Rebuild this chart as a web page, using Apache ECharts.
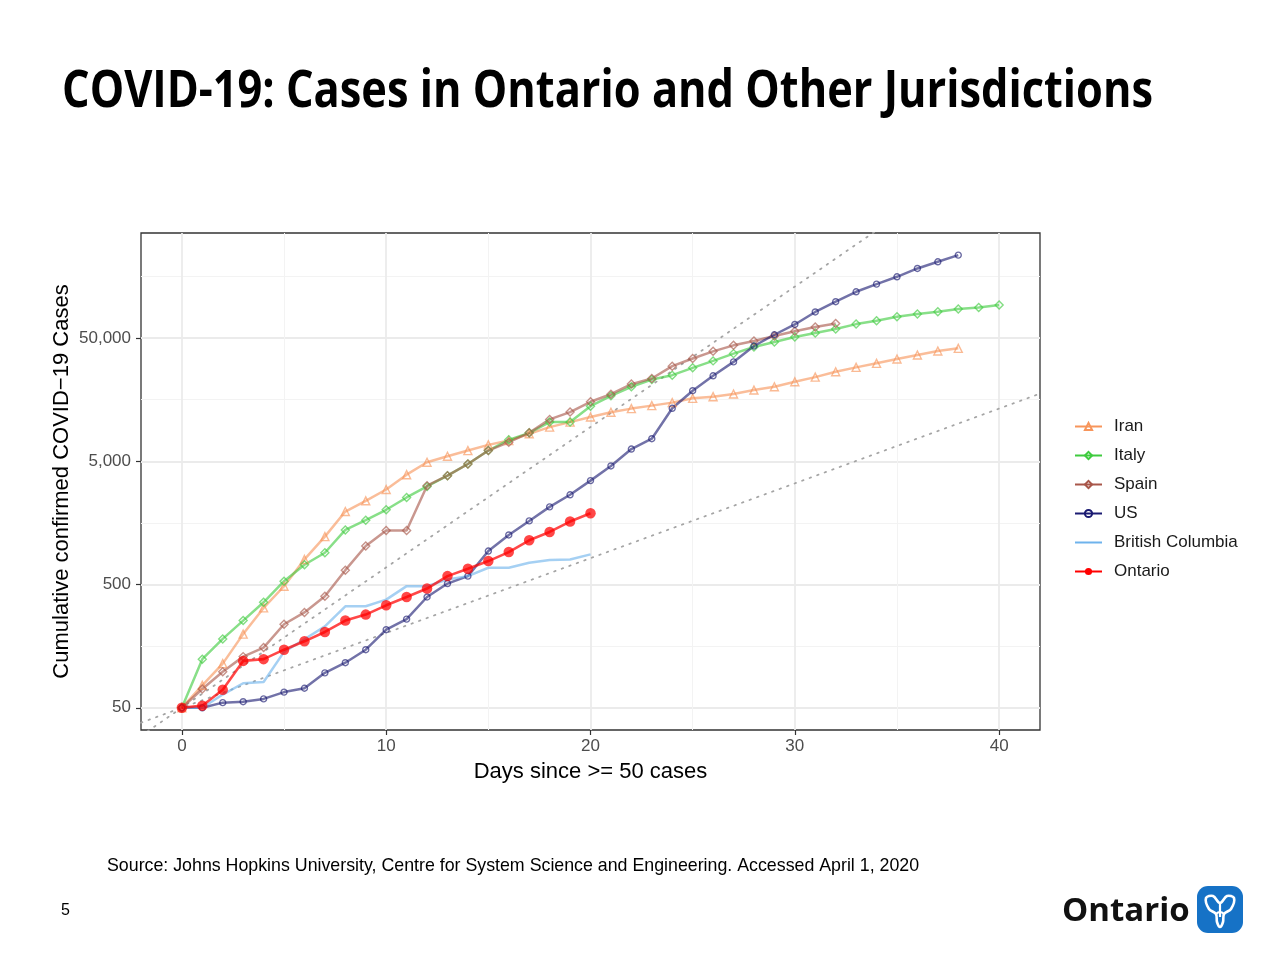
<!DOCTYPE html>
<html>
<head>
<meta charset="utf-8">
<title>COVID-19: Cases in Ontario and Other Jurisdictions</title>
<script src="https://cdn.jsdelivr.net/npm/echarts@6/dist/echarts.min.js"></script>
<style>
    html, body {margin: 0; padding: 0; background: #fff;}
    #chart {width: 1286px; height: 962px;}
</style>
</head>
<body>
<div id="chart"></div>
<script>
// cumulative cases, index = days since >= 50 cases
var iranCases = [50, 76, 114, 198, 323, 484, 799, 1224, 1956, 2389, 2950, 3893, 4908, 5493, 6108, 6794, 7370, 8354, 9470, 10400,
    11450, 12500, 13380, 14150, 14960, 16210, 16720, 17570, 18920, 20130, 22100, 24100, 26670, 28920, 31170, 33800, 36410, 39260, 41240];
var italyCases = [50, 124, 181, 255, 359, 532, 723, 906, 1386, 1664, 2020, 2544, 3128, 3822, 4754, 6108, 7463, 8509, 10400, 10400,
    14000, 17000, 20130, 23070, 25000, 28650, 32640, 37380, 42300, 46450, 51000, 55000, 59200, 64900, 69100, 74480, 78290, 81740, 85930, 88660, 92600];
var spainCases = [50, 71, 98, 130, 154, 238, 297, 402, 654, 1027, 1370, 1370, 3168, 3822, 4754, 6108, 7146, 8509, 10935, 12540,
    15200, 17500, 21150, 23500, 29560, 34100, 39020, 43650, 47300, 51900, 56800, 61550, 65740];
var usCases = [50, 50, 55, 56, 59, 67, 72, 96, 116, 148, 215, 262, 396, 509, 585, 935, 1262, 1641, 2134, 2674,
    3485, 4580, 6286, 7620, 13460, 18690, 24700, 32020, 43100, 53180, 64480, 81400, 98570, 118740, 137000, 157100, 183600, 208000, 235500];
var bcCases = [50, 50, 64, 79, 81, 142, 180, 229, 333, 333, 377, 485, 485, 549, 585, 684, 684, 751, 790, 797, 878];
var ontarioCases = [50, 52, 70, 120, 124, 148, 173, 206, 255, 285, 339, 396, 464, 585, 671, 775, 917, 1142, 1336, 1621, 1896];

// dotted guide lines (end points): fast and slow growth from day 0
var fastGuide = [[-2, 29.6], [34, 373000]];
var slowGuide = [[-2, 37.8], [42, 17700]];

var countryNames = ['Iran', 'Italy', 'Spain', 'US', 'British Columbia', 'Ontario'];
var xTicks = [0, 10, 20, 30, 40];
var xMinorTicks = [5, 15, 25, 35];
var yTicks = [50, 500, 5000, 50000];
var yMinorTicks = [158.1, 1581, 15811, 158114];

var titleText = 'COVID-19: Cases in Ontario and Other Jurisdictions';
var sourceText = 'Source: Johns Hopkins University, Centre for System Science and Engineering. Accessed April 1, 2020';

function toPairs(arr) {
    return arr.map(function (v, i) { return [i, v]; });
}

// squeeze the title to the slide's width (Calibri isn't installed)
var titleFont = 'bold 52px "Open Sans"';
var ctx = document.createElement('canvas').getContext('2d');
ctx.font = titleFont;
var titleScale = 1091 / ctx.measureText(titleText).width;

var myChart = echarts.init(document.getElementById('chart'));

var sans = '"Liberation Sans", Arial, sans-serif';

function countrySeries(name, data, color, symbol, size) {
    return {
        name: name, type: 'line', data: toPairs(data), symbol: symbol, symbolSize: size,
        showSymbol: symbol !== 'none',
        lineStyle: {color: color, width: 2.5, opacity: 0.62},
        itemStyle: {color: 'rgba(255,255,255,0)', borderColor: color, borderWidth: 1.4, opacity: 0.65},
        emphasis: {disabled: true},
        animation: false
    };
}

var ontarioSeries = {
    name: 'Ontario', type: 'line', data: toPairs(ontarioCases), symbol: 'circle', symbolSize: 10.5,
    lineStyle: {color: '#FF0000', width: 2.6, opacity: 0.72},
    itemStyle: {color: '#FF0000', opacity: 0.72},
    emphasis: {disabled: true},
    animation: false
};

function guideSeries(data) {
    return {
        type: 'line', data: data, symbol: 'none', silent: true, z: 1,
        lineStyle: {color: '#A5A5A5', width: 1.8, type: [1.5, 6.5], cap: 'round'},
        animation: false
    };
}

var legendData = countryNames.map(function (n) {
    // British Columbia has no point markers, so its key is a plain line
    return n === 'British Columbia' ? {name: n, itemStyle: {opacity: 0}} : {name: n};
});

var option = {
    backgroundColor: '#ffffff',
    textStyle: {fontFamily: sans},
    grid: {
        left: 141, top: 233, width: 899, height: 497,
        show: true, borderColor: '#333333', borderWidth: 1.3, backgroundColor: '#ffffff'
    },
    legend: {
        data: legendData, orient: 'vertical', left: 1069, top: 413,
        itemWidth: 27, itemHeight: 9, itemGap: 12,
        textStyle: {fontSize: 17, color: '#1a1a1a', fontFamily: sans, padding: [0, 0, 0, 7]},
        lineStyle: {opacity: 1}, itemStyle: {opacity: 1},
        selectedMode: false
    },
    xAxis: [{
        type: 'value', min: -2, max: 42,
        name: 'Days since >= 50 cases', nameLocation: 'middle', nameGap: 31,
        nameTextStyle: {fontSize: 22, color: '#000', fontFamily: sans},
        axisLine: {show: false, onZero: false},
        axisTick: {show: true, length: 5, customValues: xTicks, lineStyle: {color: '#333', width: 1.2}},
        axisLabel: {customValues: xTicks, fontSize: 17, color: '#4D4D4D', margin: 8},
        splitLine: {show: true, lineStyle: {color: '#EBEBEB', width: 1.8}}
    }, {
        type: 'value', min: -2, max: 42, position: 'bottom',
        axisLine: {show: false, onZero: false},
        axisTick: {show: false, customValues: xMinorTicks},
        axisLabel: {show: false, customValues: xMinorTicks},
        splitLine: {show: true, lineStyle: {color: '#F3F3F3', width: 1}}
    }],
    yAxis: [{
        type: 'log', logBase: 10, min: 33, max: 356000,
        name: 'Cumulative confirmed COVID\u221219 Cases', nameLocation: 'middle', nameGap: 68,
        nameMoveOverlap: false,
        nameTextStyle: {fontSize: 22, color: '#000', fontFamily: sans},
        axisLine: {show: false, onZero: false},
        axisTick: {show: true, length: 5, customValues: yTicks, lineStyle: {color: '#333', width: 1.2}},
        axisLabel: {
            customValues: yTicks, fontSize: 17, color: '#4D4D4D', margin: 10,
            formatter: function (v) { return Number(v).toLocaleString('en-US'); }
        },
        splitLine: {show: true, lineStyle: {color: '#EBEBEB', width: 1.8}}
    }, {
        type: 'log', logBase: 10, min: 33, max: 356000, position: 'left',
        axisLine: {show: false, onZero: false},
        axisTick: {show: false, customValues: yMinorTicks},
        axisLabel: {show: false, customValues: yMinorTicks},
        splitLine: {show: true, lineStyle: {color: '#F3F3F3', width: 1}}
    }],
    graphic: [
        {
            type: 'text', x: 62, y: 92, scaleX: titleScale,
            style: {text: titleText, font: titleFont, fill: '#000', textAlign: 'left', textVerticalAlign: 'middle', verticalAlign: 'middle'}
        },
        {
            type: 'text', x: 107, y: 866,
            style: {text: sourceText, font: '17.8px ' + sans, fill: '#000', textVerticalAlign: 'middle', verticalAlign: 'middle'}
        },
        {
            type: 'text', x: 61, y: 911,
            style: {text: '5', font: '16px ' + sans, fill: '#000', textVerticalAlign: 'middle', verticalAlign: 'middle'}
        },
        {
            type: 'text', x: 1062, y: 912,
            style: {text: 'Ontario', font: 'bold 33px "Open Sans"', fill: '#111', textVerticalAlign: 'middle', verticalAlign: 'middle'}
        },
        {
            type: 'rect', shape: {x: 1197, y: 886, width: 46, height: 47, r: 11},
            style: {fill: '#1672C6'}
        },
        {
            // rough trillium outline
            type: 'polygon', x: 1197, y: 886,
            shape: {points: [[9, 12], [16, 10], [23, 17], [30, 10], [37, 12], [34, 23], [27, 28], [26, 36], [23, 41], [20, 36], [19, 28], [12, 23]], smooth: 0.35},
            style: {fill: null, stroke: '#ffffff', lineWidth: 2.6}
        },
        {
            type: 'polyline', x: 1197, y: 886,
            shape: {points: [[23, 17], [23, 31]]},
            style: {stroke: '#ffffff', lineWidth: 2.2}
        },
        {
            type: 'polyline', x: 1197, y: 886,
            shape: {points: [[19, 28], [23, 26], [27, 28]], smooth: 0.5},
            style: {stroke: '#ffffff', lineWidth: 2.2}
        }
    ],
    series: [
        guideSeries(fastGuide),
        guideSeries(slowGuide),
        countrySeries('Iran', iranCases, '#F7955B', 'triangle', 8),
        countrySeries('Italy', italyCases, '#3FCB3F', 'diamond', 8),
        countrySeries('Spain', spainCases, '#A8574A', 'diamond', 8),
        countrySeries('US', usCases, '#1B1B72', 'circle', 6),
        countrySeries('British Columbia', bcCases, '#6EB3EC', 'none', 0),
        ontarioSeries
    ]
};

if (option && typeof option === "object") {
    myChart.setOption(option, true);
}
</script>
</body>
</html>
